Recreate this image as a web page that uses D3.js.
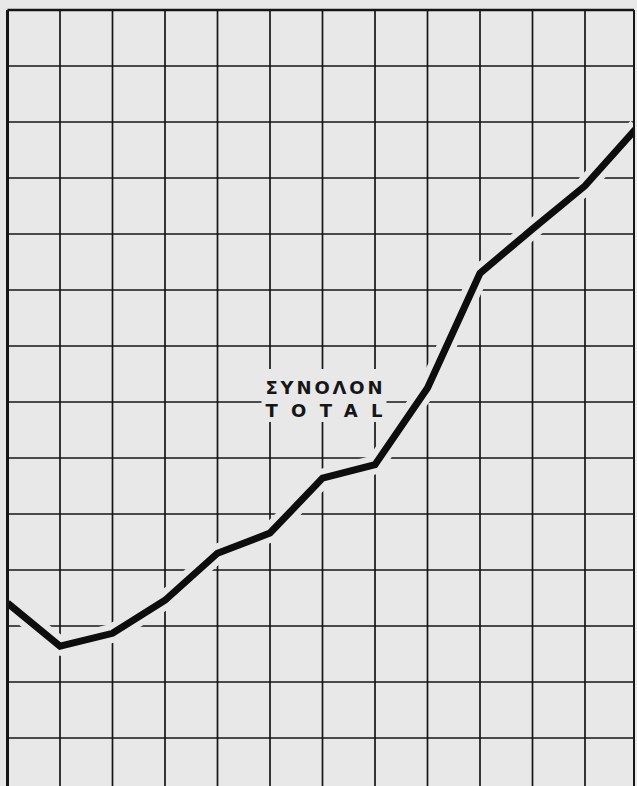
<!DOCTYPE html>
<html><head><meta charset="utf-8">
<script src="https://cdn.jsdelivr.net/npm/d3@7"></script>
<style>html,body{margin:0;padding:0;background:#e8e8e8;}svg{display:block;}</style>
</head><body>
<script>
// grid-unit data
const periods = [0,1,2,3,4,5,6,7,8,9,10,11,12];
const totalValues = [3.41,2.64,2.87,3.46,4.30,4.66,5.64,5.88,7.25,9.30,10.09,10.86,11.91];
const yTicks = d3.range(0,15);
const labelLines = ["ΣΥΝΟΛΟΝ","TOTAL"];

const W = 637, H = 786, bg = "#e8e8e8", ink = "#161616";
const svg = d3.select("body").append("svg").attr("width",W).attr("height",H);
svg.append("rect").attr("width",W).attr("height",H).attr("fill",bg);

const x = d3.scaleLinear().domain([0,12]).range([7.5,637.5]);
const y = d3.scaleLinear().domain([0,14]).range([794,10]);
const frameRight = 634;

const defs = svg.append("defs");
defs.append("clipPath").attr("id","frame").append("rect")
  .attr("x",x(0)).attr("y",y(14)).attr("width",frameRight-x(0)).attr("height",H);

const g = svg.append("g").attr("clip-path","url(#frame)");

// vertical grid lines
g.selectAll("line.v").data(periods.slice(1,12)).enter().append("line")
  .attr("x1",d=>x(d)).attr("x2",d=>x(d)).attr("y1",y(14)).attr("y2",H)
  .attr("stroke",ink).attr("stroke-width",1.7);
// horizontal grid lines
g.selectAll("line.h").data(yTicks.filter(d=>d<14)).enter().append("line")
  .attr("x1",x(0)).attr("x2",frameRight).attr("y1",d=>y(d)).attr("y2",d=>y(d))
  .attr("stroke",ink).attr("stroke-width",1.7);

// frame: top, left, right
svg.append("line").attr("x1",x(0)).attr("x2",frameRight).attr("y1",y(14)).attr("y2",y(14))
  .attr("stroke",ink).attr("stroke-width",2.6);
svg.append("line").attr("x1",x(0)).attr("x2",x(0)).attr("y1",y(14)).attr("y2",H)
  .attr("stroke",ink).attr("stroke-width",3);
svg.append("line").attr("x1",frameRight).attr("x2",frameRight).attr("y1",y(14)).attr("y2",H)
  .attr("stroke",ink).attr("stroke-width",2);

// label mask
const lx = x(6), ly = y(7);
g.append("rect").attr("x",lx-61).attr("y",ly-33).attr("width",125).attr("height",53).attr("fill",bg);

const line = d3.line().x((d,i)=>x(periods[i])).y(d=>y(d));
g.append("path").datum(totalValues).attr("d",line).attr("fill","none")
  .attr("stroke",bg).attr("stroke-width",19).attr("stroke-linejoin","round");
g.append("path").datum(totalValues).attr("d",line).attr("fill","none")
  .attr("stroke","#0d0d0d").attr("stroke-width",7).attr("stroke-linejoin","miter");

svg.selectAll("text.lab").data(labelLines).enter().append("text")
  .attr("x",lx-57).attr("y",(d,i)=>ly-8.5+i*23)
  .attr("textLength",117).attr("lengthAdjust","spacing")
  .attr("font-family","DejaVu Sans, sans-serif").attr("font-weight","bold")
  .attr("font-size",18).attr("fill",ink).text(d=>d);
</script>
</body></html>
